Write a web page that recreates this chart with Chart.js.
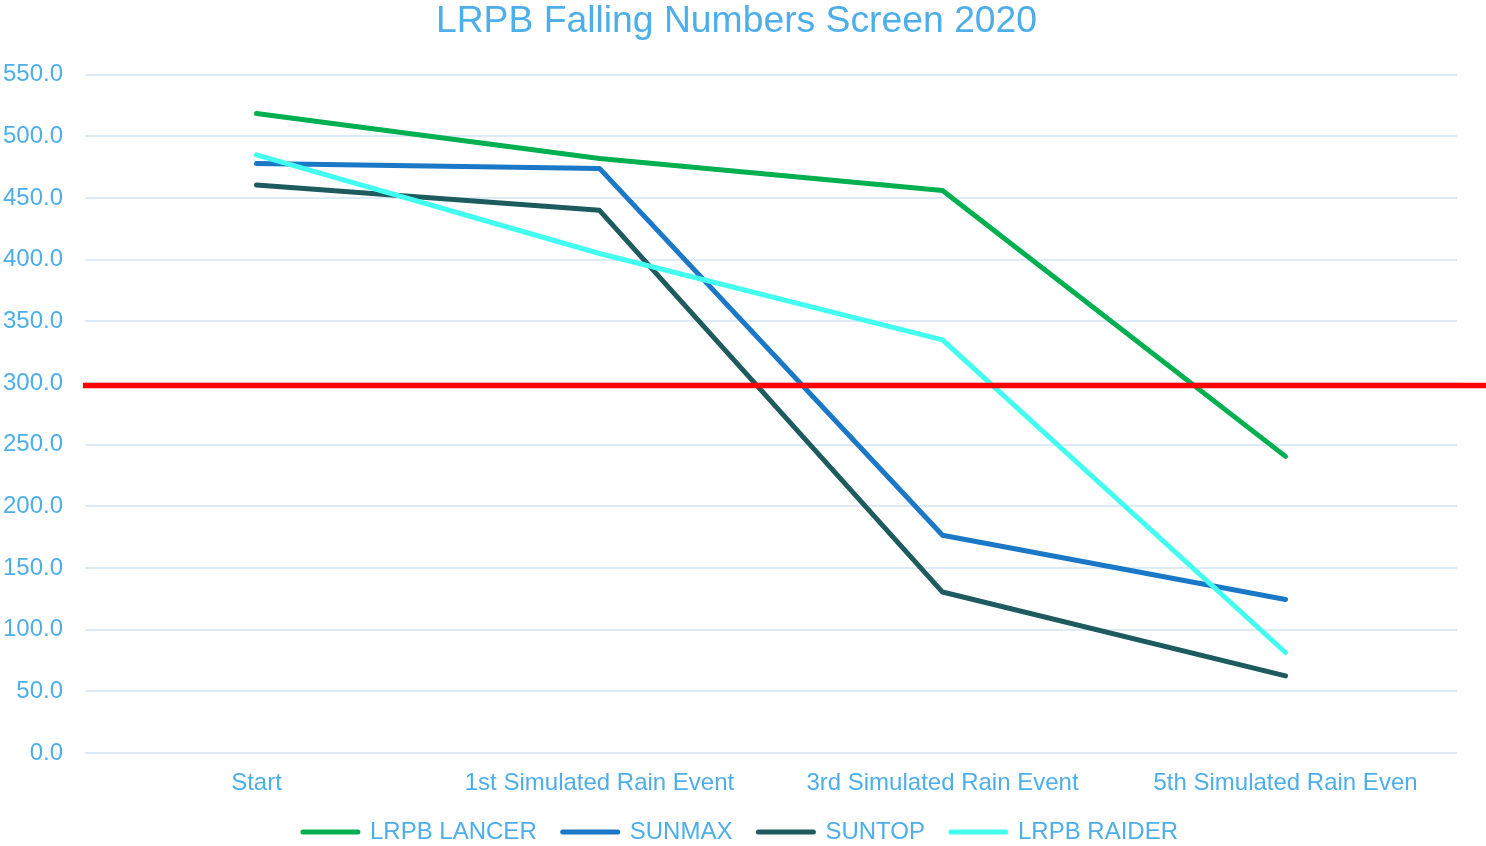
<!DOCTYPE html>
<html>
<head>
<meta charset="utf-8">
<script src="https://cdn.jsdelivr.net/npm/chart.js@4/dist/chart.umd.min.js"></script>
<style>
  html, body { margin: 0; padding: 0; background: #ffffff; }
  #wrap { width: 1486px; height: 846px; }
</style>
</head>
<body>
<div id="wrap"><canvas id="c" width="1486" height="846"></canvas></div>
<script>
const categories = ["Start", "1st Simulated Rain Event", "3rd Simulated Rain Event", "5th Simulated Rain Even"];
const lancer = [518.5, 482, 456, 240.5];
const sunmax = [478, 474, 176.5, 124.5];
const suntop = [460.5, 440, 130.5, 62.5];
const raider = [485, 405, 335, 81.5];
const threshold = 298;
const yTicks = [0, 50, 100, 150, 200, 250, 300, 350, 400, 450, 500, 550];

const textColor = '#4DAEEA';
const gridColor = '#DCEBF7';
const font = 'Liberation Sans, Arial, sans-serif';

const thresholdPlugin = {
  id: 'thresholdLine',
  afterLayout(chart) {
    // nudge title and legend horizontally to match the reference placement
    if (chart.titleBlock) { chart.titleBlock.left += 8; chart.titleBlock.right += 8; }
    if (chart.legend) { chart.legend.left += 12; chart.legend.right += 12; }
  },
  afterDatasetsDraw(chart) {
    const y = chart.scales.y.getPixelForValue(threshold);
    const ctx = chart.ctx;
    ctx.save();
    ctx.strokeStyle = '#FF0000';
    ctx.lineWidth = 5.5;
    ctx.beginPath();
    ctx.moveTo(chart.chartArea.left - 2, y);
    ctx.lineTo(chart.width, y);
    ctx.stroke();
    ctx.restore();
  }
};

function ds(label, data, color, order) {
  return {
    label, data, order,
    borderColor: color, backgroundColor: color,
    borderWidth: 5, pointRadius: 0, pointHoverRadius: 0,
    tension: 0, borderCapStyle: 'round', borderJoinStyle: 'round',
    fill: false
  };
}

new Chart(document.getElementById('c'), {
  type: 'line',
  data: {
    labels: categories,
    datasets: [
      ds('LRPB LANCER', lancer, '#00B050', 4),
      ds('SUNMAX', sunmax, '#1A78C6', 3),
      ds('SUNTOP', suntop, '#1D5B5F', 2),
      ds('LRPB RAIDER', raider, '#42FFF0', 1)
    ]
  },
  options: {
    responsive: false,
    animation: false,
    devicePixelRatio: 1,
    layout: { padding: { top: 0, left: 0, right: 29, bottom: -8 } },
    plugins: {
      title: {
        display: true,
        text: 'LRPB Falling Numbers Screen 2020',
        color: textColor,
        font: { family: font, size: 37.3, weight: 'normal', lineHeight: 1.05 },
        padding: { top: 2, bottom: 33.5 }
      },
      legend: {
        position: 'bottom',
        labels: {
          color: textColor,
          font: { family: font, size: 24 },
          usePointStyle: true,
          pointStyle: 'line',
          pointStyleWidth: 55,
          padding: 26,
          generateLabels(chart) {
            return chart.data.datasets.map((d, i) => ({
              text: d.label, fillStyle: d.borderColor, strokeStyle: d.borderColor,
              lineWidth: 5, lineCap: 'round', pointStyle: 'line', hidden: false,
              datasetIndex: i, fontColor: textColor
            }));
          }
        }
      },
      tooltip: { enabled: false }
    },
    scales: {
      x: {
        offset: true,
        grid: { display: false, drawTicks: false },
        border: { display: false },
        ticks: { color: textColor, font: { family: font, size: 24 }, padding: 16, maxRotation: 0, autoSkip: false },
        afterFit(scale) { scale.height = 41; }
      },
      y: {
        min: 0, max: 550,
        afterBuildTicks(scale) { scale.ticks = yTicks.map(v => ({ value: v })); },
        grid: { color: gridColor, lineWidth: 2, drawTicks: false },
        border: { display: false },
        ticks: {
          color: textColor, font: { family: font, size: 24 }, padding: 22,
          callback: v => Number(v).toFixed(1)
        },
        afterFit(scale) { scale.width = 85; }
      }
    }
  },
  plugins: [thresholdPlugin]
});
</script>
</body>
</html>
